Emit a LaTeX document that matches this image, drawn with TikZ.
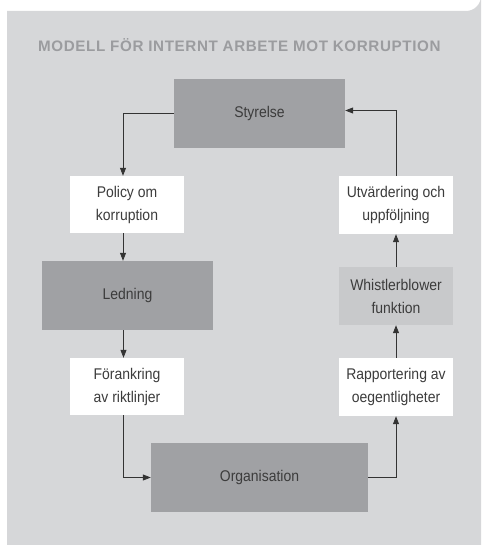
\documentclass[tikz,border=0pt]{standalone}
\usepackage{fontspec}
\setmainfont{Liberation Sans}[FakeStretch=0.9]
\newfontfamily\titlefont{Liberation Sans}[LetterSpace=4]
\usetikzlibrary{arrows.meta}
\definecolor{bgc}{HTML}{D6D7D9}
\definecolor{darkbox}{HTML}{A0A1A4}
\definecolor{lightbox}{HTML}{C8C9CB}
\definecolor{titlec}{HTML}{9B9C9F}
\definecolor{txt}{HTML}{3C3C3C}
\definecolor{linec}{HTML}{333333}
\begin{document}
\begin{tikzpicture}[x=1pt,y=-1pt,
  box/.style={draw=none,inner sep=0pt,align=center,text=txt,font=\fontsize{15.5}{23}\selectfont},
  bigbox/.style={box,fill=darkbox,minimum width=171pt,minimum height=69pt},
  whitebox/.style={box,fill=white,minimum width=114pt,minimum height=57pt},
  midbox/.style={box,fill=lightbox,minimum width=114pt,minimum height=58pt},
  conn/.style={draw=linec,line width=0.8pt,-{Triangle[length=8pt,width=6pt]}}]
\useasboundingbox (0,0) rectangle (481,545);
\fill[bgc] (7,545) -- (7,11) -- (466,11) arc[start angle=90,end angle=0,radius=15] -- (481,545) -- cycle;
\node[anchor=base west,inner sep=0pt,text=titlec,font=\titlefont\bfseries\fontsize{15.2}{17}\selectfont] (title) at (38,52) {MODELL FÖR INTERNT ARBETE MOT KORRUPTION};
\node[bigbox] (sty) at (259.5,113.5) {Styrelse};
\node[whitebox] (pol) at (127,204.5) {Policy om\\korruption};
\node[bigbox] (led) at (127.5,295.5) {Ledning};
\node[whitebox] (for) at (127,386.5) {Förankring\\av riktlinjer};
\node[bigbox,minimum width=217pt] (org) at (259.5,477.5) {Organisation};
\node[whitebox,minimum height=58pt] (rap) at (396,387) {Rapportering av\\oegentligheter};
\node[midbox] (whi) at (396,296) {Whistlerblower\\funktion};
\node[whitebox,minimum height=58pt] (utv) at (396,205) {Utvärdering och\\uppföljning};
\coordinate (c1) at (123,113.5);
\draw[conn] (sty.west) -- (c1) -- (c1 |- pol.north);
\draw[conn] ([xshift=-4pt]pol.south) -- ([xshift=-4pt]pol.south |- led.north);
\draw[conn] ([xshift=-4pt]led.south) -- ([xshift=-4pt]led.south |- for.north);
\draw[conn] ([xshift=-4pt]for.south) |- (org.west);
\draw[conn] (org.east) -| (rap.south);
\draw[conn] (rap.north) -- (whi.south);
\draw[conn] (whi.north) -- (utv.south);
\draw[conn] (utv.north) |- ([yshift=3pt]sty.east);
\end{tikzpicture}
\end{document}
